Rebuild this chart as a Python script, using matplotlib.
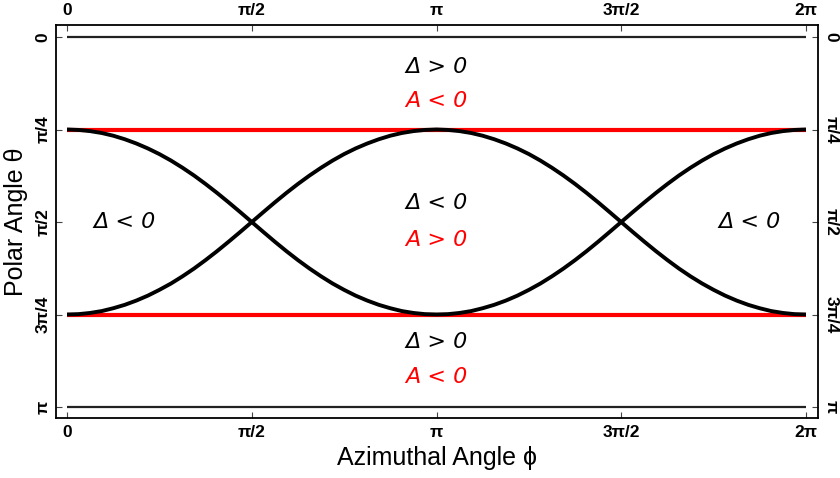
import numpy as np
import matplotlib
matplotlib.use("Agg")
import matplotlib.pyplot as plt

PI = np.pi

# Curve samples read/ (phi, theta)
phi = [0.000, 0.098, 0.196, 0.295, 0.393, 0.491, 0.589, 0.687, 0.785, 0.884, 0.982, 1.080, 1.178, 1.276, 1.374, 1.473,
       1.571, 1.669, 1.767, 1.865, 1.963, 2.062, 2.160, 2.258, 2.356, 2.454, 2.553, 2.651, 2.749, 2.847, 2.945, 3.043,
       3.142, 3.240, 3.338, 3.436, 3.534, 3.632, 3.731, 3.829, 3.927, 4.025, 4.123, 4.221, 4.320, 4.418, 4.516, 4.614,
       4.712, 4.810, 4.909, 5.007, 5.105, 5.203, 5.301, 5.400, 5.498, 5.596, 5.694, 5.792, 5.890, 5.988, 6.087, 6.185,
       6.283]
theta_a = [0.785, 0.789, 0.799, 0.815, 0.838, 0.868, 0.904, 0.946, 0.994, 1.049, 1.110, 1.176, 1.248, 1.324, 1.404, 1.487,
           1.571, 1.655, 1.738, 1.818, 1.894, 1.966, 2.032, 2.093, 2.147, 2.196, 2.238, 2.274, 2.303, 2.327, 2.343, 2.353,
           2.356, 2.353, 2.343, 2.327, 2.303, 2.274, 2.238, 2.196, 2.147, 2.093, 2.032, 1.966, 1.894, 1.818, 1.738, 1.655,
           1.571, 1.487, 1.404, 1.324, 1.248, 1.176, 1.110, 1.049, 0.994, 0.946, 0.904, 0.868, 0.838, 0.815, 0.799, 0.789,
           0.785]
theta_b = [2.356, 2.353, 2.343, 2.327, 2.303, 2.274, 2.238, 2.196, 2.147, 2.093, 2.032, 1.966, 1.894, 1.818, 1.738, 1.655,
           1.571, 1.487, 1.404, 1.324, 1.248, 1.176, 1.110, 1.049, 0.994, 0.946, 0.904, 0.868, 0.838, 0.815, 0.799, 0.789,
           0.785, 0.789, 0.799, 0.815, 0.838, 0.868, 0.904, 0.946, 0.994, 1.049, 1.110, 1.176, 1.248, 1.324, 1.404, 1.487,
           1.571, 1.655, 1.738, 1.818, 1.894, 1.966, 2.032, 2.093, 2.147, 2.196, 2.238, 2.274, 2.303, 2.327, 2.343, 2.353,
           2.356]

red_levels = [PI / 4, 3 * PI / 4]
black_levels = [0.0, PI]

xticks = [0, PI / 2, PI, 3 * PI / 2, 2 * PI]
xticklabels = ["0", "π/2", "π", "3π/2", "2π"]
yticks = [0, PI / 4, PI / 2, 3 * PI / 4, PI]
yticklabels = ["0", "π/4", "π/2", "3π/4", "π"]

# annotations: (x, y, text, color)
notes = [
    (PI, 0.255, "Δ > 0", "black"),
    (PI, 0.543, "A < 0", "red"),
    (PI, 1.409, "Δ < 0", "black"),
    (PI, 1.724, "A > 0", "red"),
    (PI, 2.590, "Δ > 0", "black"),
    (PI, 2.887, "A < 0", "red"),
    (0.493, PI / 2, "Δ < 0", "black"),
    (5.807, PI / 2, "Δ < 0", "black"),
]

fig = plt.figure(figsize=(8.4, 4.78), dpi=100)
ax = fig.add_axes([0.0667, 0.1255, 0.9071, 0.8222])

for lv in black_levels:
    ax.plot([0, 2 * PI], [lv, lv], color="#222222", lw=1.6, solid_capstyle="butt")
for lv in red_levels:
    ax.plot([0, 2 * PI], [lv, lv], color="#ff0000", lw=3.0, solid_capstyle="butt")
ax.plot(phi, theta_a, color="black", lw=2.8, solid_capstyle="butt")
ax.plot(phi, theta_b, color="black", lw=2.8, solid_capstyle="butt")

ax.set_xlim(-0.0935, 2 * PI + 0.102)
ax.set_ylim(PI + 0.0934, -0.102)

ax.set_xticks(xticks)
ax.set_xticklabels(xticklabels)
ax.set_yticks(yticks)
ax.set_yticklabels(yticklabels)
ax.tick_params(direction="in", length=4, width=0.8, color="#444444",
               top=True, right=True, labeltop=True, labelright=True)
ax.tick_params(axis="x", pad=5.0)
ax.tick_params(axis="y", pad=4.0)

fam = ["Liberation Sans", "DejaVu Sans"]
for t in ax.xaxis.get_major_ticks():
    for lab in (t.label1, t.label2):
        lab.set_family(fam)
        lab.set_weight("bold")
        lab.set_size(12.5)
for t in ax.yaxis.get_major_ticks():
    for lab in (t.label1, t.label2):
        lab.set_family(fam)
        lab.set_weight("bold")
        lab.set_size(12.5)
        lab.set_va("center")
    t.label1.set_rotation(90)
    t.label2.set_rotation(-90)

for sp in ax.spines.values():
    sp.set_linewidth(1.3)
    sp.set_color("black")

labfont = dict(family=fam, size=18)
ax.set_xlabel("Azimuthal Angle ϕ", **labfont)
ax.set_ylabel("Polar Angle θ", **labfont)
ax.xaxis.set_label_coords(0.5, -0.070)
ax.yaxis.set_label_coords(-0.037, 0.5)

for x, y, s, c in notes:
    ax.text(x, y, s, color=c, ha="center", va="center", style="italic",
            family=["DejaVu Sans"], size=16)

fig.savefig("out.png", dpi=100)
